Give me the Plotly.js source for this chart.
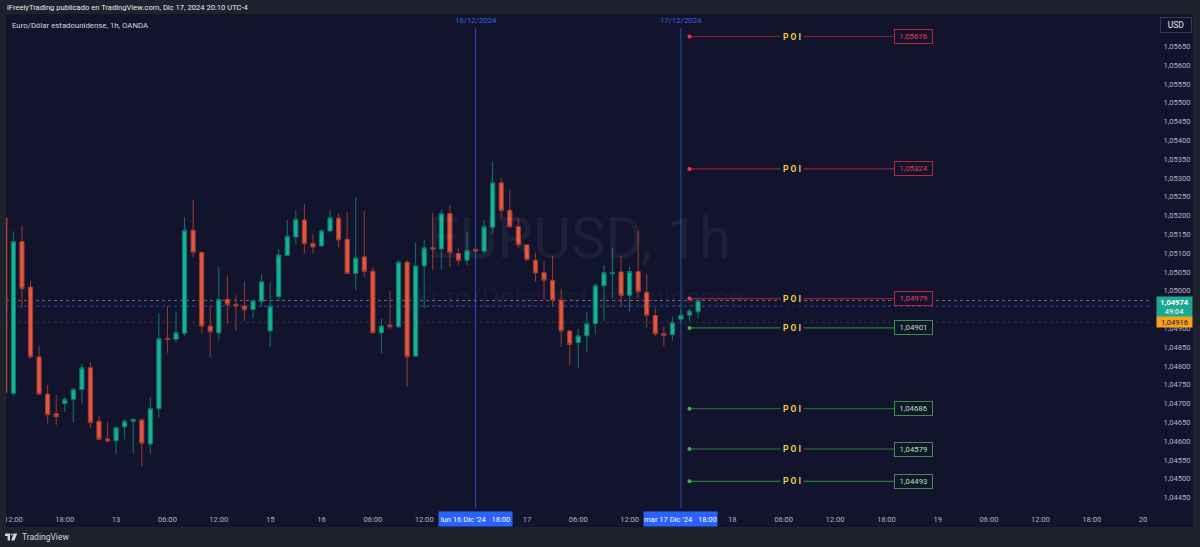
<!DOCTYPE html>
<html><head><meta charset="utf-8">
<script src="https://cdn.plot.ly/plotly-3.0.1.min.js"></script>
<style>html,body{margin:0;padding:0;background:#12142e;overflow:hidden}#chart{width:1200px;height:547px}</style>
</head><body><div id="chart"></div>
<script>
// ---- DATA (EUR/USD 1h, OANDA) ----
// bar index: 0 = Dic 12 12:00 (UTC-4); first bar (index -1) is Dic 12 11:00
const firstBarIndex = -1;
const openP  = [1.05193,1.04727,1.05131,1.05010,1.04824,1.04725,1.04673,1.04700,1.04711,1.04737,1.04795,1.04653,1.04606,1.04601,1.04638,1.04652,1.04656,1.04592,1.04686,1.04873,1.04871,1.04887,1.05161,1.05102,1.04906,1.04888,1.04977,1.04964,1.04959,1.04950,1.04972,1.04893,1.04984,1.05094,1.05143,1.05188,1.05126,1.05119,1.05159,1.05193,1.05137,1.05046,1.05090,1.05052,1.04888,1.04909,1.04904,1.05076,1.04826,1.05066,1.05114,1.05111,1.05205,1.05099,1.05081,1.05110,1.05105,1.05169,1.05287,1.05214,1.05171,1.05122,1.05081,1.05048,1.05028,1.04975,1.04893,1.04862,1.04880,1.04913,1.05013,1.05045,1.05050,1.04988,1.05051,1.04996,1.04934,1.04886,1.04883,1.04924,1.04935,1.04944];
const highP  = [1.05195,1.05158,1.05174,1.05026,1.04853,1.04749,1.04723,1.04718,1.04741,1.04805,1.04810,1.04667,1.04651,1.04638,1.04658,1.04661,1.04660,1.04716,1.04940,1.04959,1.04945,1.05195,1.05241,1.05102,1.04957,1.05063,1.05041,1.04988,1.05025,1.04975,1.05044,1.05023,1.05111,1.05188,1.05214,1.05230,1.05151,1.05163,1.05214,1.05206,1.05209,1.05248,1.05212,1.05062,1.04925,1.04999,1.05082,1.05082,1.05128,1.05135,1.05207,1.05216,1.05227,1.05112,1.05156,1.05112,1.05188,1.05343,1.05299,1.05270,1.05193,1.05123,1.05101,1.05079,1.05092,1.05004,1.04894,1.04898,1.04943,1.05020,1.05068,1.05115,1.05092,1.05064,1.05159,1.05044,1.04953,1.04906,1.04931,1.04949,1.04953,1.04976];
const lowP   = [1.04725,1.04718,1.04952,1.04819,1.04723,1.04647,1.04643,1.04678,1.04649,1.04700,1.04635,1.04603,1.04596,1.04565,1.04605,1.04568,1.04532,1.04565,1.04663,1.04835,1.04863,1.04880,1.05089,1.04886,1.04822,1.04867,1.04912,1.04893,1.04919,1.04928,1.04959,1.04851,1.04973,1.05092,1.05124,1.05098,1.05098,1.05117,1.05157,1.05115,1.05044,1.05002,1.05035,1.04885,1.04834,1.04898,1.04902,1.04745,1.04824,1.04952,1.05055,1.05057,1.05064,1.05068,1.05068,1.05103,1.05097,1.05153,1.05190,1.05168,1.05112,1.05081,1.05024,1.04975,1.04957,1.04851,1.04802,1.04794,1.04838,1.04885,1.04920,1.04979,1.04957,1.04944,1.04981,1.04902,1.04880,1.04851,1.04867,1.04913,1.04918,1.04927];
const closeP = [1.04729,1.05131,1.05005,1.04824,1.04725,1.04670,1.04665,1.04711,1.04738,1.04795,1.04649,1.04605,1.04600,1.04636,1.04653,1.04658,1.04594,1.04687,1.04873,1.04870,1.04889,1.05161,1.05102,1.04906,1.04891,1.04977,1.04963,1.04959,1.04949,1.04973,1.05024,1.04959,1.05095,1.05145,1.05190,1.05125,1.05116,1.05159,1.05194,1.05135,1.05046,1.05087,1.05051,1.04888,1.04906,1.04904,1.05076,1.04824,1.05066,1.05114,1.05111,1.05205,1.05101,1.05080,1.05107,1.05105,1.05170,1.05287,1.05213,1.05170,1.05122,1.05082,1.05047,1.05028,1.04975,1.04893,1.04857,1.04880,1.04913,1.05014,1.05048,1.05049,1.04987,1.05051,1.04997,1.04934,1.04885,1.04881,1.04915,1.04935,1.04946,1.04974];

// x-axis ticks (bar index -> label); 18:00 of Dic 16 / 17 are shown by the highlighted labels
const xTickIdx  = [0,6,12,18,24,30,36,42,48,60,66,72,84,90,96,102,108,114,120,126,132];
const xTickText = ['12:00','18:00','13','06:00','12:00','15','16','06:00','12:00','17','06:00','12:00','18','06:00','12:00','18:00','19','06:00','12:00','18:00','20'];
// y-axis ticks (1,04950 is hidden behind the last-price label)
const yTickVals = [1.0445,1.0450,1.0455,1.0460,1.0465,1.0470,1.0475,1.0480,1.0485,1.0490,1.0500,1.0505,1.0510,1.0515,1.0520,1.0525,1.0530,1.0535,1.0540,1.0545,1.0550,1.0555,1.0560,1.0565];

// points of interest
const poiPrices = [1.05676,1.05324,1.04979,1.04901,1.04686,1.04579,1.04493];
const poiTypes  = ['supply','supply','supply','demand','demand','demand','demand'];
const poiLabel  = 'P O I';

// reference levels
const lastPrice = 1.04974;
const countdown = '49:04';
const prevClose = 1.04916;
const blueLevel = 1.04959;
// session markers (bar index) and their labels
const markerIdx   = [54, 78];
const markerDates = ['16/12/2024','17/12/2024'];
const markerAxis  = ["lun 16 Dic '24", "mar 17 Dic '24"];
const markerTime  = ['18:00','18:00'];

// ---- LAYOUT HELPERS (pixel -> paper) ----
const L = 6, R = 1152, T = 14, B = 508;
const px = v => (v - L) / (R - L);
const py = v => (B - v) / (B - T);
const fmt = v => v.toFixed(5).replace('.', ',');
const BG = '#12142e', FRAME = '#1e222d';
const NB = '\u00a0';

const xIdx = openP.map((_, k) => k + firstBarIndex);

const traces = [{
  type:'candlestick', x:xIdx, open:openP, high:highP, low:lowP, close:closeP,
  increasing:{line:{color:'#0c7a68', width:1}, fillcolor:'#14b396'},
  decreasing:{line:{color:'#9a3b2f', width:1}, fillcolor:'#e4573f'},
  hoverinfo:'skip', showlegend:false
}];

const poiStart = 79, poiEnd = 102.9, poiTextX = 91, poiBoxX = 105.2;
const poiStyle = {
  supply:{line:'#8e2034', dot:'#f23645', border:'#b3283c', text:'#ec3a50'},
  demand:{line:'#2c7a38', dot:'#43b04f', border:'#3a9046', text:'#a6e8a6'}
};
poiPrices.forEach((p, k) => {
  const s = poiStyle[poiTypes[k]];
  traces.push({type:'scatter', mode:'lines', x:[poiStart, poiEnd], y:[p, p],
    line:{color:s.line, width:1.2}, hoverinfo:'skip', showlegend:false});
  traces.push({type:'scatter', mode:'markers', x:[poiStart], y:[p],
    marker:{color:s.dot, size:4, symbol:'circle'}, hoverinfo:'skip', showlegend:false});
});

const shapes = [
  // frame
  {type:'rect', xref:'paper', yref:'paper', x0:px(0), x1:px(1200), y0:py(0), y1:py(14), fillcolor:FRAME, line:{width:0}, layer:'above'},
  {type:'rect', xref:'paper', yref:'paper', x0:px(0), x1:px(1200), y0:py(527), y1:py(547), fillcolor:FRAME, line:{width:0}, layer:'above'},
  {type:'rect', xref:'paper', yref:'paper', x0:px(0), x1:px(6), y0:py(0), y1:py(547), fillcolor:FRAME, line:{width:0}, layer:'above'},
  {type:'rect', xref:'paper', yref:'paper', x0:px(1193), x1:px(1200), y0:py(0), y1:py(547), fillcolor:FRAME, line:{width:0}, layer:'above'},
  // horizontal reference lines
  {type:'line', xref:'paper', yref:'y', x0:0, x1:1, y0:lastPrice, y1:lastPrice, line:{color:'rgba(150,110,120,0.85)', width:1, dash:'dot'}, layer:'below'},
  {type:'line', xref:'paper', yref:'y', x0:0, x1:1, y0:blueLevel, y1:blueLevel, line:{color:'rgba(40,80,210,0.9)', width:1, dash:'dot'}, layer:'below'},
  {type:'line', xref:'paper', yref:'y', x0:0, x1:1, y0:prevClose, y1:prevClose, line:{color:'rgba(80,62,60,0.6)', width:1, dash:'dot'}, layer:'below'},
  // TradingView logo
  {type:'path', xref:'paper', yref:'paper', path:`M ${px(5)} ${py(533.5)} L ${px(10)} ${py(533.5)} L ${px(10)} ${py(540.5)} L ${px(7.6)} ${py(540.5)} L ${px(7.6)} ${py(536)} L ${px(5)} ${py(536)} Z`, fillcolor:'#d1d4dc', line:{width:0}, layer:'above'},
  {type:'circle', xref:'paper', yref:'paper', x0:px(10.6), x1:px(12.6), y0:py(533.4), y1:py(535.6), fillcolor:'#d1d4dc', line:{width:0}, layer:'above'},
  {type:'path', xref:'paper', yref:'paper', path:`M ${px(13.6)} ${py(533.5)} L ${px(17.2)} ${py(533.5)} L ${px(14.4)} ${py(540.5)} L ${px(11.2)} ${py(540.5)} Z`, fillcolor:'#d1d4dc', line:{width:0}, layer:'above'}
];
markerIdx.forEach(i => shapes.push({type:'line', xref:'x', yref:'paper', x0:i, x1:i, y0:0, y1:py(28),
  line:{color:'rgb(46,86,226)', width:1}, opacity:0.85, layer:'below'}));

const annotations = [
  {xref:'paper', yref:'paper', x:px(5), y:py(7.5), xanchor:'left', yanchor:'middle', showarrow:false,
   text:'iFreelyTrading publicado en TradingView.com, Dic 17, 2024 20:10 UTC-4', font:{size:7.6, color:'#e6e8ee'}},
  {xref:'paper', yref:'paper', x:px(10), y:py(25), xanchor:'left', yanchor:'middle', showarrow:false,
   text:'Euro/Dólar estadounidense, 1h, OANDA', font:{size:7.8, color:'#d1d4dc'}},
  // watermark
  {xref:'paper', yref:'paper', x:0.5, y:py(238), xanchor:'center', yanchor:'middle', showarrow:false,
   text:'EURUSD, 1h', font:{size:58, color:'rgba(255,255,255,0.05)'}},
  {xref:'paper', yref:'paper', x:0.5, y:py(298), xanchor:'center', yanchor:'middle', showarrow:false,
   text:'Euro/Dólar estadounidense', font:{size:27, color:'rgba(255,255,255,0.05)'}},
  {xref:'paper', yref:'paper', x:px(20), y:py(537), xanchor:'left', yanchor:'middle', showarrow:false,
   text:'TradingView', font:{size:8.5, color:'#d1d4dc'}},
  // USD box
  {xref:'paper', yref:'paper', x:px(1176), y:py(25), xanchor:'center', yanchor:'middle', showarrow:false,
   text:'USD', font:{size:8.5, color:'#e6e8ee'}, bgcolor:BG, bordercolor:'#353a4a', borderwidth:1, width:28, height:12, borderpad:1},
  // last price label
  {xref:'paper', yref:'y', x:px(1174.5), y:lastPrice, xanchor:'center', yanchor:'top', yshift:4.5, showarrow:false,
   text:`<b>${fmt(lastPrice)}</b><br>${countdown}`, font:{size:7.6, color:'#ffffff'}, bgcolor:'#1fa890', width:35, height:20, borderpad:0},
  {xref:'paper', yref:'y', x:px(1174.5), y:prevClose, xanchor:'center', yanchor:'middle', showarrow:false,
   text:fmt(prevClose), font:{size:7.6, color:'#131722'}, bgcolor:'#f7a21b', width:35, height:10, borderpad:0}
];
markerIdx.forEach((i, k) => {
  annotations.push({xref:'x', yref:'paper', x:i, y:py(21), xanchor:'center', yanchor:'middle', showarrow:false,
    text:markerDates[k], font:{size:7.8, color:'#3265e0'}});
  annotations.push({xref:'x', yref:'paper', x:i, y:py(518.5), xanchor:'center', yanchor:'middle', showarrow:false,
    text:markerAxis[k] + NB+NB+NB + markerTime[k], font:{size:7.6, color:'#ffffff'}, bgcolor:'#2962ff', width:73, height:14, borderpad:0});
});
poiPrices.forEach((p, k) => {
  const s = poiStyle[poiTypes[k]];
  annotations.push({xref:'x', yref:'y', x:poiTextX, y:p, xanchor:'center', yanchor:'middle', showarrow:false,
    text:'<b>' + poiLabel.split(' ').join(NB) + '</b>', font:{size:8.5, color:'#f2d22e'}, bgcolor:BG, borderpad:2});
  annotations.push({xref:'x', yref:'y', x:poiBoxX, y:p, xanchor:'center', yanchor:'middle', showarrow:false,
    text:fmt(p), font:{size:7.8, color:s.text}, bgcolor:BG, bordercolor:s.border, borderwidth:1, width:35, height:11, borderpad:1});
});

const layout = {
  width:1200, height:547,
  margin:{l:L, r:1200-R, t:T, b:547-B, pad:0},
  paper_bgcolor:BG, plot_bgcolor:BG,
  separators:',.',
  showlegend:false, dragmode:false, hovermode:false,
  font:{family:'Roboto, "Noto Sans", sans-serif', size:7.6, color:'#b2b5be'},
  xaxis:{range:[-0.865, 133.04], tickmode:'array', tickvals:xTickIdx, ticktext:xTickText,
    showgrid:false, zeroline:false, showline:false, ticks:'outside', ticklen:4, tickcolor:'rgba(0,0,0,0)',
    tickfont:{size:7.6, color:'#b2b5be'}, rangeslider:{visible:false}, fixedrange:true},
  yaxis:{side:'right', range:[1.044221, 1.057359], tickmode:'array', tickvals:yTickVals, tickformat:'.5f',
    showgrid:false, zeroline:false, showline:false, ticks:'outside', ticklen:9, tickcolor:'rgba(0,0,0,0)',
    tickfont:{size:7.6, color:'#b2b5be'}, fixedrange:true},
  shapes, annotations
};

Plotly.newPlot('chart', traces, layout, {displayModeBar:false, staticPlot:true});
</script>
</body></html>
